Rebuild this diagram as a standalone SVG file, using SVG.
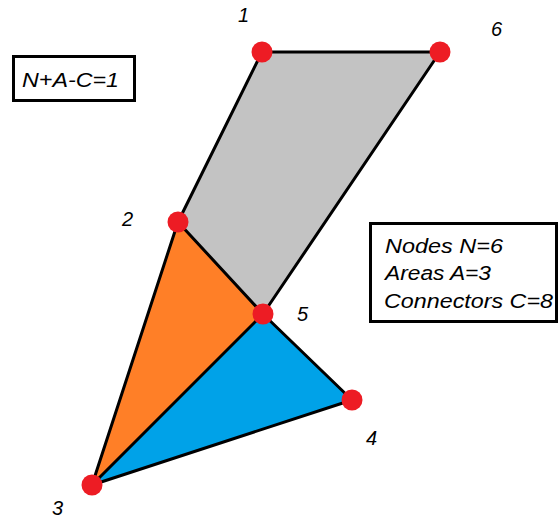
<svg xmlns="http://www.w3.org/2000/svg" width="560" height="522" viewBox="0 0 560 522">
<style>
.lbl{font-family:"Liberation Sans",Arial,sans-serif;font-style:italic;font-size:20px;fill:#000}
.box{fill:#fff;stroke:#000;stroke-width:3}
.edge{stroke:#000;stroke-width:3;stroke-linecap:round;fill:none}
.node{fill:#ed1c24}
</style>
<rect width="560" height="522" fill="#fff"/>
<g id="areas">
<polygon id="area-gray" points="262,52 440,52 263,314 178,222" fill="#c3c3c3"/>
<polygon id="area-orange" points="178,222 263,314 92,485" fill="#ff7f27"/>
<polygon id="area-blue" points="263,314 352,400 92,485" fill="#00a2e8"/>
</g>
<g id="connectors">
<line class="edge" x1="262" y1="52" x2="440" y2="52"/>
<line class="edge" x1="262" y1="52" x2="178" y2="222"/>
<line class="edge" x1="440" y1="52" x2="263" y2="314"/>
<line class="edge" x1="178" y1="222" x2="263" y2="314"/>
<line class="edge" x1="178" y1="222" x2="92" y2="485"/>
<line class="edge" x1="263" y1="314" x2="92" y2="485"/>
<line class="edge" x1="263" y1="314" x2="352" y2="400"/>
<line class="edge" x1="352" y1="400" x2="92" y2="485"/>
</g>
<g id="node-1"><circle class="node" cx="262" cy="52" r="10.5"/><text class="lbl" x="238" y="22" font-size="18">1</text></g>
<g id="node-6"><circle class="node" cx="440" cy="52" r="10.5"/><text class="lbl" x="491" y="36" font-size="18">6</text></g>
<g id="node-2"><circle class="node" cx="178" cy="222" r="10.5"/><text class="lbl" x="122" y="226">2</text></g>
<g id="node-5"><circle class="node" cx="263" cy="314" r="10.5"/><text class="lbl" x="297" y="321">5</text></g>
<g id="node-4"><circle class="node" cx="352" cy="400" r="10.5"/><text class="lbl" x="366" y="445">4</text></g>
<g id="node-3"><circle class="node" cx="92" cy="485" r="10.5"/><text class="lbl" x="52" y="515">3</text></g>
<g id="formula">
<rect class="box" x="13.5" y="56.5" width="121" height="44"/>
<text class="lbl" x="22" y="87" font-size="21" textLength="97" lengthAdjust="spacingAndGlyphs">N+A-C=1</text>
</g>
<g id="counts">
<rect class="box" x="370.5" y="223.5" width="186" height="98"/>
<text class="lbl" x="385" y="253" font-size="21" textLength="118" lengthAdjust="spacingAndGlyphs">Nodes N=6</text>
<text class="lbl" x="385" y="280" font-size="21" textLength="106" lengthAdjust="spacingAndGlyphs">Areas A=3</text>
<text class="lbl" x="384" y="308" font-size="21" textLength="169" lengthAdjust="spacingAndGlyphs">Connectors C=8</text>
</g>
</svg>
